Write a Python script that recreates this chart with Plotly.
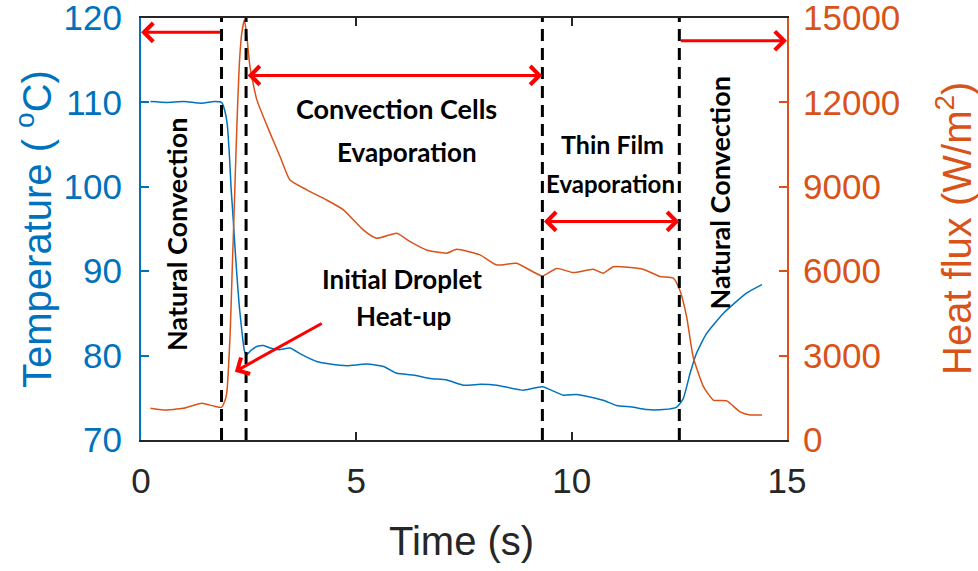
import plotly.graph_objects as go

# ---- data ----
temp_time = [0.22, 0.6, 1.0, 1.4, 1.7, 1.87, 1.93, 2.0, 2.05, 2.09, 2.13, 2.18, 2.22, 2.28, 2.34, 2.40,
             2.45, 2.55, 2.7, 2.85, 3.0, 3.2, 3.46, 3.7, 4.08, 4.39, 4.78, 5.24, 5.63, 5.94, 6.32,
             6.71, 7.1, 7.48, 7.9, 8.26, 8.88, 9.32, 9.81, 10.12, 10.73, 11.04, 11.4, 11.74, 12.13,
             12.44, 12.59, 12.75, 12.9, 13.13, 13.52, 14.06, 14.42]
temperature = [110.1, 110.0, 110.1, 109.9, 110.1, 110.0, 109.3, 107.5, 104.0, 100.0, 97.0, 93.0, 90.0,
               86.0, 83.0, 80.6, 80.1, 80.6, 81.1, 81.2, 80.9, 80.7, 80.9, 80.2, 79.3, 79.0, 78.8,
               79.0, 78.7, 77.9, 77.7, 77.3, 77.1, 76.5, 76.6, 76.5, 75.9, 76.3, 75.3, 75.4, 74.7,
               74.1, 73.9, 73.6, 73.6, 73.9, 74.9, 77.9, 80.3, 82.6, 85.0, 87.4, 88.4]

flux_time = [0.22, 0.52, 0.98, 1.41, 1.7, 1.87, 1.95, 1.99, 2.07, 2.12, 2.16, 2.22, 2.28, 2.34, 2.40,
             2.45, 2.53, 2.69, 3.0, 3.23, 3.46, 3.85, 4.31, 4.7, 5.16, 5.47, 5.94, 6.25, 6.63, 7.1,
             7.33, 7.87, 8.26, 8.72, 9.32, 9.65, 10.04, 10.5, 10.73, 10.97, 11.66, 12.05, 12.36,
             12.51, 12.67, 12.82, 13.06, 13.29, 13.6, 13.91, 14.14, 14.42]
heat_flux = [1127, 1066, 1127, 1305, 1200, 1162, 1400, 1660, 3790, 6160, 8000, 10900, 13270, 14460,
             14930, 14460, 13270, 12090, 10900, 10070, 9240, 8890, 8530, 8180, 7470, 7170, 7350,
             7050, 6755, 6640, 6780, 6580, 6220, 6280, 5830, 6100, 5950, 6070, 5930, 6160, 6070,
             5810, 5750, 5330, 4380, 2960, 1900, 1420, 1390, 1000, 890, 890]

phase_bounds = [1.87, 2.44, 9.32, 12.5]

x_ticks = [0, 5, 10, 15]
temp_ticks = [70, 80, 90, 100, 110, 120]
flux_ticks = [0, 3000, 6000, 9000, 12000, 15000]
flux_tick_labels = ["0", "3000", "6000", "9000", "12000", "15000"]

BLUE = "#0072BD"
ORANGE = "#D95319"
AXC = "#262626"
RED = "#FF0000"

fig = go.Figure()
fig.add_trace(go.Scatter(x=temp_time, y=temperature, mode="lines",
                         line=dict(color=BLUE, width=1.5, shape="spline", smoothing=0.5),
                         yaxis="y", showlegend=False))
fig.add_trace(go.Scatter(x=flux_time, y=heat_flux, mode="lines",
                         line=dict(color=ORANGE, width=1.5, shape="spline", smoothing=0.5),
                         yaxis="y2", showlegend=False))

for xb in phase_bounds:
    fig.add_shape(type="line", x0=xb, x1=xb, y0=0, y1=1, xref="x", yref="paper",
                  line=dict(color="black", width=3, dash="12px,7px"))

tickfont = "Liberation Sans, Arial, sans-serif"
fig.update_layout(
    width=978, height=571,
    margin=dict(l=141, r=191, t=18, b=131),
    paper_bgcolor="white", plot_bgcolor="white",
    xaxis=dict(range=[0, 15], tickvals=x_ticks, ticks="inside", ticklen=8, tickwidth=1.5,
               tickcolor=AXC, showline=True, linecolor=AXC, linewidth=2, mirror="ticks",
               showgrid=False, zeroline=False, ticklabelstandoff=9, automargin=False,
               ticklabeloverflow="allow",
               tickfont=dict(family=tickfont, size=35, color=AXC)),
    yaxis=dict(range=[70, 120], tickvals=temp_ticks, ticks="inside", ticklen=8, tickwidth=1.5,
               tickcolor=BLUE, showline=True, linecolor=BLUE, linewidth=2,
               showgrid=False, zeroline=False, ticklabelstandoff=10, automargin=False,
               ticklabeloverflow="allow",
               tickfont=dict(family=tickfont, size=35, color=BLUE)),
    yaxis2=dict(range=[0, 15000], tickvals=flux_ticks, ticktext=flux_tick_labels,
                overlaying="y", side="right",
                ticks="inside", ticklen=8, tickwidth=1.5, tickcolor=ORANGE, showline=True,
                linecolor=ORANGE, linewidth=2, showgrid=False, zeroline=False,
                ticklabelstandoff=7, automargin=False, ticklabeloverflow="allow",
                tickfont=dict(family=tickfont, size=35, color=ORANGE)),
)

ann = []
# axis titles
ann.append(dict(text="Time (s)", xref="paper", yref="paper", x=0.4968, y=-0.24,
                xanchor="center", yanchor="middle", showarrow=False,
                font=dict(family=tickfont, size=40, color=AXC)))
ann.append(dict(text="Temperature ( <sup>o</sup>C)", xref="paper", yref="paper",
                x=(34 - 141) / 646, y=0.5, xanchor="center", yanchor="middle", textangle=-90,
                showarrow=False, font=dict(family=tickfont, size=40, color=BLUE)))
ann.append(dict(text="Heat flux (W/m<sup>2</sup>)", xref="paper", yref="paper",
                x=(954 - 141) / 646, y=0.5, xanchor="center", yanchor="middle", textangle=-90,
                showarrow=False, font=dict(family=tickfont, size=40, color=ORANGE)))

def label(text, x, y, size=27, angle=0):
    ann.append(dict(text="<b>%s</b>" % text, x=x, y=y, xref="x", yref="y", showarrow=False,
                    xanchor="center", yanchor="middle", textangle=angle,
                    font=dict(family="Lato, sans-serif", size=size, color="black")))

label("Natural Convection", 0.84, 94.3, 27, -90)
label("Natural Convection", 13.44, 99.3, 27, -90)
label("Convection Cells", 5.93, 109.3, 27)
label("Evaporation", 6.18, 104.1, 26)
label("Thin Film", 10.94, 105.1, 25)
label("Evaporation", 10.91, 100.4, 24)
label("Initial Droplet", 6.07, 89.1, 26)
label("Heat-up", 6.09, 84.7, 26)

def arrow(x_head, y_head, x_tail, y_tail, both=False):
    d = dict(text="", x=x_head, y=y_head, ax=x_tail, ay=y_tail, xref="x", yref="y",
             axref="x", ayref="y", showarrow=True, arrowhead=4, arrowsize=1.2,
             arrowwidth=3, arrowcolor=RED, standoff=0,
             arrowside="end+start" if both else "end")
    if both:
        d.update(startarrowhead=4, startarrowsize=1.2, startstandoff=0)
    ann.append(d)

arrow(0.0, 118.3, phase_bounds[0], 118.3)
arrow(phase_bounds[2], 113.2, phase_bounds[1], 113.2, both=True)
arrow(phase_bounds[3], 95.9, phase_bounds[2], 95.9, both=True)
arrow(15.0, 117.3, phase_bounds[3], 117.3)
arrow(2.18, 78.1, 4.23, 83.9)

fig.update_layout(annotations=ann)
fig.write_html("out.html", config={"displayModeBar": False},
               post_script="document.body.style.margin='0';document.body.style.overflow='hidden';")
